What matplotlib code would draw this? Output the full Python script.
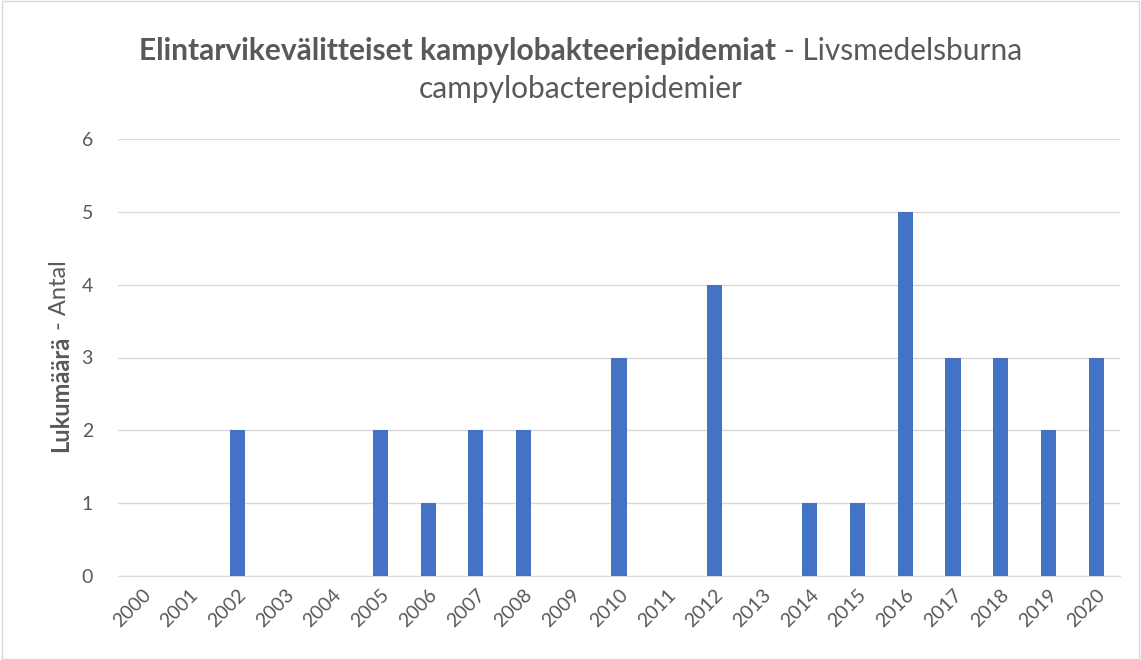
import matplotlib
matplotlib.use("Agg")
import matplotlib.pyplot as plt
from matplotlib.patches import Rectangle

years = [str(y) for y in range(2000, 2021)]
counts = [0, 0, 2, 0, 0, 2, 1, 2, 2, 0, 3, 0, 4, 0, 1, 1, 5, 3, 3, 2, 3]
yticks = [0, 1, 2, 3, 4, 5, 6]

FONT = ["Lato", "DejaVu Sans"]
TXT = "#595959"
BAR = "#4472C4"
GRID = "#D9D9D9"

fig = plt.figure(figsize=(11.41, 6.60), dpi=100)
ax = fig.add_axes([118/1141, 1-576/660, (1120-118)/1141, (576-139)/660])

x = list(range(len(years)))
ax.bar(x, counts, width=0.32, color=BAR, zorder=3)
ax.set_xlim(-0.5, len(years) - 0.5)
ax.set_ylim(0, 6)
ax.set_yticks(yticks)
ax.set_yticklabels([str(v) for v in yticks], fontsize=14, color=TXT, family=FONT)
ax.set_xticks(x)
ax.set_xticklabels(years, rotation=45, ha="right", rotation_mode="anchor",
                   fontsize=14, color=TXT, family=FONT)
ax.tick_params(axis="both", length=0)
ax.tick_params(axis="x", pad=7)
ax.tick_params(axis="y", pad=18)
ax.grid(axis="y", color=GRID, linewidth=1, zorder=0)
for s in ["top", "right", "left"]:
    ax.spines[s].set_visible(False)
ax.spines["bottom"].set_color(GRID)

# figure border
fig.patches.append(Rectangle((0.0015, 0.002), 0.997, 0.996, transform=fig.transFigure,
                             fill=False, edgecolor="#D9D9D9", linewidth=1))

fig.canvas.draw()
r = fig.canvas.get_renderer()

# Title line 1: bold + regular
t_bold = "Elintarvikevälitteiset kampylobakteeriepidemiat"
t_reg = " - Livsmedelsburna"
fs_t = 21.5
a = fig.text(0, 0, t_bold, fontsize=fs_t, fontweight="bold", color=TXT, family=FONT,
             va="center")
b = fig.text(0, 0, t_reg, fontsize=fs_t, color=TXT, family=FONT, va="center")
wa = a.get_window_extent(r).width
wb = b.get_window_extent(r).width
cx = 581
y1 = 1 - 51/660
start = cx - (wa + wb) / 2
a.set_position((start/1141, y1))
b.set_position(((start + wa)/1141, y1))
fig.text(581/1141, 1 - 89/660, "campylobacterepidemier", fontsize=fs_t, color=TXT,
         family=FONT, ha="center", va="center")

# Y label: bold + regular, rotated
l_bold = "Lukumäärä"
l_reg = " - Antal"
fs_l = 17
c = fig.text(0, 0, l_bold, fontsize=fs_l, fontweight="bold", color=TXT, family=FONT,
             rotation=90, ha="left", va="bottom")
d = fig.text(0, 0, l_reg, fontsize=fs_l, color=TXT, family=FONT, rotation=90,
             ha="left", va="bottom")
hc = c.get_window_extent(r).height
hd = d.get_window_extent(r).height
cy = 660 - 356
ystart = cy - (hc + hd) / 2
xl = 49/1141
c.set_position((xl, ystart/660))
d.set_position((xl, (ystart + hc)/660))

fig.savefig("out.png", dpi=100)
